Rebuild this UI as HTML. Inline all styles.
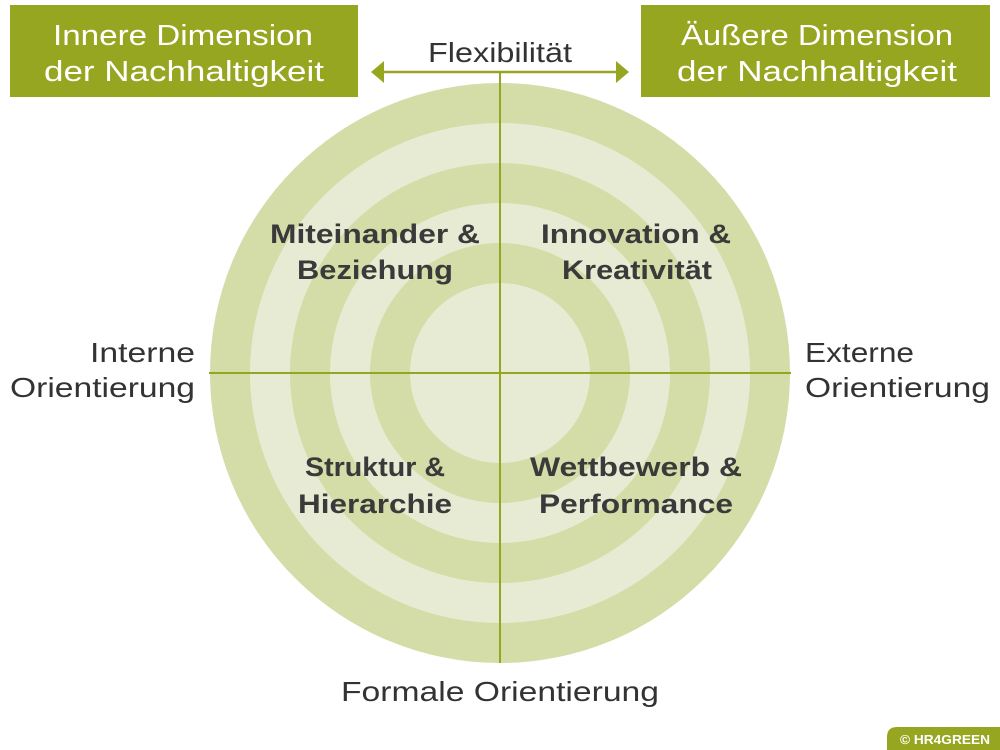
<!DOCTYPE html>
<html><head><meta charset="utf-8"><style>
html,body{margin:0;padding:0;background:#fff;}
body{width:1000px;height:750px;position:relative;overflow:hidden;font-family:"Liberation Sans",sans-serif;}
</style></head><body>
<svg width="1000" height="750" viewBox="0 0 1000 750" xmlns="http://www.w3.org/2000/svg" style="position:absolute;left:0;top:0">
<circle cx="500" cy="373" r="290" fill="#d4dca8"/>
<circle cx="500" cy="373" r="250" fill="#e8ebd3"/>
<circle cx="500" cy="373" r="210" fill="#d4dca8"/>
<circle cx="500" cy="373" r="170" fill="#e8ebd3"/>
<circle cx="500" cy="373" r="130" fill="#d4dca8"/>
<circle cx="500" cy="373" r="90" fill="#e8ebd3"/>
<line x1="500" y1="72" x2="500" y2="663" stroke="#97a621" stroke-width="2"/>
<line x1="209" y1="373" x2="791" y2="373" stroke="#97a621" stroke-width="2"/>
<line x1="380" y1="72" x2="620" y2="72" stroke="#97a621" stroke-width="2.5"/>
<polygon points="371,72 384,61 384,83" fill="#97a621"/>
<polygon points="629,72 616,61 616,83" fill="#97a621"/>
<rect x="10" y="5" width="348" height="92" fill="#97a621"/>
<rect x="641" y="5" width="349" height="92" fill="#97a621"/>
<path d="M887,750 V737 Q887,727 897,727 H1000 V750 Z" fill="#97a621"/>
<g fill="#fff" font-size="29" lengthAdjust="spacingAndGlyphs">
<text x="53" y="45" textLength="260" lengthAdjust="spacingAndGlyphs">Innere Dimension</text>
<text x="44" y="81" textLength="280" lengthAdjust="spacingAndGlyphs">der Nachhaltigkeit</text>
<text x="681" y="45" textLength="272" lengthAdjust="spacingAndGlyphs">Äußere Dimension</text>
<text x="677" y="81" textLength="280" lengthAdjust="spacingAndGlyphs">der Nachhaltigkeit</text>
</g>
<text x="900" y="744" fill="#fff" font-size="13" font-weight="bold" textLength="90" lengthAdjust="spacingAndGlyphs">© HR4GREEN</text>
<g fill="#333" font-size="28">
<text x="428" y="62" textLength="144" lengthAdjust="spacingAndGlyphs">Flexibilität</text>
<text x="341" y="701" textLength="318" lengthAdjust="spacingAndGlyphs">Formale Orientierung</text>
<text x="90" y="362" textLength="105" lengthAdjust="spacingAndGlyphs">Interne</text>
<text x="10" y="397" textLength="185" lengthAdjust="spacingAndGlyphs">Orientierung</text>
<text x="805" y="362" textLength="109" lengthAdjust="spacingAndGlyphs">Externe</text>
<text x="805" y="397" textLength="185" lengthAdjust="spacingAndGlyphs">Orientierung</text>
</g>
<g fill="#3a3a3a" font-size="27" font-weight="bold">
<text x="270" y="243" textLength="210" lengthAdjust="spacingAndGlyphs">Miteinander &amp;</text>
<text x="297" y="279" textLength="156" lengthAdjust="spacingAndGlyphs">Beziehung</text>
<text x="541" y="243" textLength="190" lengthAdjust="spacingAndGlyphs">Innovation &amp;</text>
<text x="562" y="279" textLength="150" lengthAdjust="spacingAndGlyphs">Kreativität</text>
<text x="305" y="476" textLength="140" lengthAdjust="spacingAndGlyphs">Struktur &amp;</text>
<text x="298" y="513" textLength="154" lengthAdjust="spacingAndGlyphs">Hierarchie</text>
<text x="530" y="476" textLength="212" lengthAdjust="spacingAndGlyphs">Wettbewerb &amp;</text>
<text x="539" y="513" textLength="194" lengthAdjust="spacingAndGlyphs">Performance</text>
</g>
</svg>
</body></html>
